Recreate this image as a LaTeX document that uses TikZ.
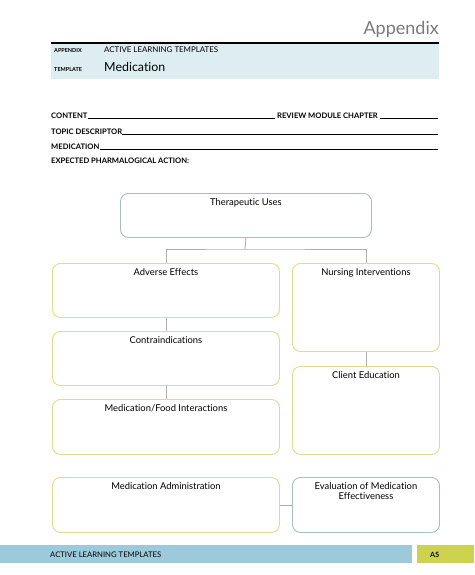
\documentclass[tikz,border=0pt]{standalone}
\usepackage{fontspec}
\setmainfont{Lato}[Ligatures={NoCommon,NoRequired,NoContextual}]
\definecolor{appgray}{HTML}{7A7A7A}
\definecolor{headblue}{HTML}{DDEDF2}
\definecolor{footblue}{HTML}{9DCADA}
\definecolor{footgreen}{HTML}{CDD34F}
\definecolor{ybord}{HTML}{E6D88C}
\definecolor{gbord}{HTML}{A9BDC5}
\definecolor{conn}{HTML}{B0B0B0}
\begin{document}
\begin{tikzpicture}[x=1pt,y=-1pt,
  box/.style={draw=ybord, line width=0.9pt, rounded corners=8pt, anchor=north west, inner sep=0pt},
  gbox/.style={box, draw=gbord},
  ttl/.style={anchor=north, yshift=-5pt, font=\fontsize{9.4}{10}\selectfont, align=center, inner sep=0pt},
  form/.style={anchor=base west, font=\fontsize{7.6}{8}\selectfont\bfseries, inner sep=0pt},
  uline/.style={line width=0.5pt},
  cline/.style={draw=conn, line width=0.9pt}]
\useasboundingbox[fill=white] (0,0) rectangle (474,575);
% header
\node[anchor=base east, text=appgray, font=\fontsize{18}{18}\selectfont, inner sep=0pt] (app) at (439,35) {Appendix};
\fill[headblue] (51,44) rectangle (439,79);
\draw[line width=2pt] (51,43) -- (439,43);
\node[anchor=base west, inner sep=0pt, font=\fontsize{5.5}{6}\selectfont\bfseries] (l1) at (54,53) {APPENDIX};
\node[anchor=base west, inner sep=0pt, font=\fontsize{7.9}{9}\selectfont] (l2) at (104,53) {ACTIVE LEARNING TEMPLATES};
\node[anchor=base west, inner sep=0pt, font=\fontsize{5.5}{6}\selectfont\bfseries] (l3) at (54,72) {TEMPLATE};
\node[anchor=base west, inner sep=0pt, font=\fontsize{12.4}{13}\selectfont] (l4) at (104,72) {Medication};
% form
\node[form] (f1) at (51,118.5) {CONTENT};
\node[form] (f2) at (277,118.5) {REVIEW MODULE CHAPTER};
\node[form] (f3) at (51,134.5) {TOPIC DESCRIPTOR};
\node[form] (f4) at (51,149.5) {MEDICATION};
\node[form] (f5) at (51,163.5) {EXPECTED PHARMALOGICAL ACTION:};
\coordinate (e1) at (275,118.5);
\coordinate (e2) at (438,118.5);
\coordinate (e3) at (438,134.5);
\coordinate (e4) at (438,149.5);
\draw[uline] (f1.base east) -- (e1);
\draw[uline] ([xshift=2pt]f2.base east) -- (e2);
\draw[uline] (f3.base east) -- (e3);
\draw[uline] (f4.base east) -- (e4);
% boxes
\node[gbox, minimum width=251, minimum height=44] (tu) at (120,193) {};
\node[ttl] at (tu.north) {Therapeutic Uses};
\node[box, minimum width=227, minimum height=54] (ae) at (52,263) {};
\node[ttl] at (ae.north) {Adverse Effects};
\node[box, minimum width=227, minimum height=54] (ci) at (52,331) {};
\node[ttl] at (ci.north) {Contraindications};
\node[box, minimum width=227, minimum height=55] (mf) at (52,399) {};
\node[ttl] at (mf.north) {Medication/Food Interactions};
\node[box, minimum width=227, minimum height=55] (ma) at (52,477) {};
\node[ttl] at (ma.north) {Medication Administration};
\node[box, minimum width=147, minimum height=88] (ni) at (292,263) {};
\node[ttl] at (ni.north) {Nursing Interventions};
\node[box, minimum width=147, minimum height=88] (ce) at (292,366) {};
\node[ttl] at (ce.north) {Client Education};
\node[gbox, minimum width=147, minimum height=55] (ev) at (292,477) {};
\node[ttl] at (ev.north) {Evaluation of Medication\\Effectiveness};
% connectors
\coordinate (j) at (245,249);
\draw[cline] (tu.south) -- (j);
\draw[cline] (ae.north) |- (j) -| (ni.north);
\draw[cline] (ae.south) -- (ci.north);
\draw[cline] (ci.south) -- (mf.north);
\draw[cline] (ni.south) -- (ce.north);
\draw[cline] (ma.east) -- (ma.east -| ev.west);
% footer
\fill[footblue] (0,545) rectangle (412,563);
\fill[footgreen] (417,545) rectangle (474,563);
\node[anchor=base west, inner sep=0pt, font=\fontsize{7.7}{8}\selectfont] (ft) at (50,557) {ACTIVE LEARNING TEMPLATES};
\node[anchor=base west, inner sep=0pt, font=\fontsize{7.2}{8}\selectfont\bfseries] (pg) at (430,557) {A5};
\end{tikzpicture}
\end{document}
